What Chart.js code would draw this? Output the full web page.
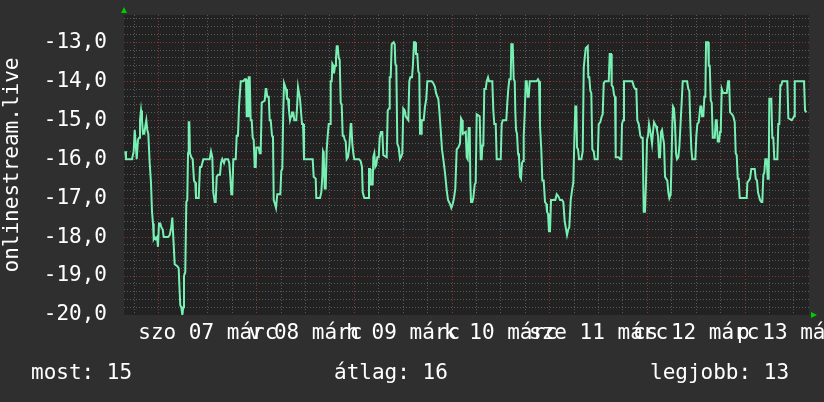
<!DOCTYPE html>
<html>
<head>
<meta charset="utf-8">
<script src="https://cdn.jsdelivr.net/npm/chart.js@4/dist/chart.umd.min.js"></script>
<style>
  html, body { margin: 0; padding: 0; background: #2f2f2f; }
  #wrap { position: relative; width: 824px; height: 402px; }
  canvas { display: block; }
  .leg { position: absolute; top: 362px; font: 21px 'DejaVu Sans Mono'; line-height: 21px; color: #ffffff; white-space: pre; }
</style>
</head>
<body>
<div id="wrap">
  <canvas id="chart" width="824" height="402"></canvas>
  <span class="leg" id="leg0" style="left:31px"></span>
  <span class="leg" id="leg1" style="left:334px"></span>
  <span class="leg" id="leg2" style="left:650px"></span>
</div>
<script>
// hours since szo 07 márc 00:00
const hours = [
  -8.28, -8.11, -6.63, -6.22, -5.97, -5.73, -5.48, -5.16, -4.91, -4.67, -4.42, -4.18, -3.93, -3.61, -3.37, -3.12,
  -2.88, -2.63, -2.29, -1.97, -1.72, -1.47, -1.30, -1.06, -0.81, -0.49, -0.25, 0, 0.32, 0.57, 0.91, 1.15,
  2.21, 2.63, 3.02, 3.27, 3.51, 3.86, 4.50, 4.84, 4.99, 5.23, 5.48, 5.73, 5.97, 6.14, 6.46, 6.71,
  6.95, 7.13, 7.30, 7.45, 7.62, 7.94, 8.28, 8.60, 8.92, 9.09, 9.76, 10.07, 10.39, 10.89, 12.46, 12.78,
  13.10, 13.34, 13.69, 13.93, 14.18, 14.50, 14.99, 15.24, 15.55, 15.97, 16.22, 16.96, 17.27, 17.52, 17.77, 18.01,
  18.26, 18.85, 19.09, 19.41, 19.66, 19.90, 20.08, 20.72, 21.06, 21.38, 21.55, 21.87, 22.04, 22.29, 22.53, 22.78,
  23.02, 23.27, 23.52, 23.76, 23.91, 24.50, 24.75, 24.99, 25.24, 25.97, 26.22, 26.37, 26.61, 26.96, 27.20, 27.45,
  27.77, 28.01, 28.19, 28.50, 28.75, 29.07, 29.81, 30.05, 30.30, 30.54, 30.72, 30.96, 31.21, 31.45, 31.70, 31.94,
  32.19, 32.44, 32.68, 33.00, 33.25, 33.74, 33.98, 34.16, 34.40, 34.65, 34.89, 35.14, 35.39, 35.63, 37.77, 38.01,
  38.51, 38.65, 39.56, 39.88, 40.13, 40.30, 40.47, 40.72, 40.96, 41.21, 41.45, 41.70, 42.02, 42.19, 42.44, 42.59,
  42.83, 43.00, 43.25, 43.49, 43.67, 43.91, 44.16, 44.40, 44.65, 44.89, 45.14, 45.39, 45.63, 45.88, 46.12, 46.44,
  46.76, 47.11, 47.26, 47.50, 47.75, 47.99, 49.15, 49.56, 49.88, 50.06, 50.45, 51.43, 51.60, 51.85, 52.02, 52.51,
  52.66, 52.91, 53.15, 53.40, 53.64, 53.99, 54.23, 54.55, 54.87, 55.12, 55.95, 56.20, 56.52, 56.69, 56.94, 57.18,
  57.67, 57.92, 58.07, 58.31, 58.56, 58.90, 59.22, 59.47, 59.79, 60.03, 60.38, 60.62, 61.26, 61.51, 61.75, 62.17,
  62.42, 62.66, 62.91, 63.15, 63.47, 63.72, 63.96, 64.14, 64.38, 64.55, 65.04, 65.36, 65.68, 65.93, 67.01, 67.40,
  67.82, 68.07, 68.39, 68.63, 68.88, 69.22, 69.54, 69.86, 70.28, 70.70, 71.02, 71.51, 71.83, 72.17, 72.49, 72.81,
  73.15, 73.55, 73.96, 74.21, 74.46, 74.63, 75.37, 75.61, 75.86, 76.10, 76.35, 76.50, 76.67, 76.99, 77.23, 77.58,
  77.82, 78.07, 78.81, 79.05, 79.30, 79.45, 79.69, 79.94, 80.28, 80.53, 80.85, 81.09, 81.90, 82.15, 82.39, 82.74,
  82.98, 83.97, 84.21, 84.46, 85.34, 85.59, 85.83, 86.08, 86.42, 86.57, 86.91, 87.16, 87.41, 87.55, 87.73, 87.97,
  88.22, 88.46, 88.71, 88.95, 89.20, 89.45, 89.62, 89.86, 90.11, 90.36, 90.60, 90.85, 91.09, 92.81, 93.13, 93.38,
  93.62, 93.94, 94.19, 94.53, 94.85, 95.17, 95.34, 95.59, 95.83, 96.08, 96.33, 97.38, 97.73, 98.12, 98.54, 99.03,
  99.35, 99.69, 99.94, 100.26, 100.58, 100.82, 101.17, 101.49, 101.81, 102.06, 102.30, 102.55, 102.72, 102.97, 103.21, 103.78,
  104.12, 104.37, 104.61, 104.86, 105.35, 105.49, 105.74, 105.99, 106.23, 106.48, 106.82, 107.07, 107.80, 108.05, 108.44, 108.79,
  109.03, 109.28, 109.60, 110.51, 110.75, 111.07, 111.24, 111.56, 111.81, 112.05, 112.22, 112.54, 112.96, 113.28, 113.60, 113.77,
  114.02, 114.26, 116.30, 116.72, 117.04, 117.29, 117.53, 117.88, 118.02, 118.27, 118.52, 118.86, 119.10, 119.42, 119.67, 119.92,
  120.16, 120.41, 120.65, 120.90, 121.15, 121.39, 121.64, 121.88, 122.13, 122.37, 122.62, 122.87, 123.11, 123.36, 123.60, 123.85,
  124.10, 124.34, 124.59, 124.91, 125.15, 125.40, 125.74, 125.89, 126.14, 126.31, 126.55, 126.80, 127.05, 127.29, 127.61, 127.86,
  128.20, 128.45, 128.69, 129.75, 130.07, 130.32, 130.56, 130.81, 131.05, 131.79, 132.04, 132.28, 132.63, 133.02, 133.27, 133.44,
  133.76, 134.01, 134.25, 134.42, 134.91, 135.09, 135.33, 135.58, 135.82, 136.07, 136.56, 136.81, 137.05, 137.30, 137.62, 137.87,
  138.04, 138.28, 138.60, 139.51, 139.83, 140.08, 140.33, 140.82, 141.12, 141.47, 141.71, 141.96, 142.21, 142.45, 142.70, 144.42,
  144.57, 144.91, 145.23, 145.55, 146.38, 146.63, 146.95, 147.19, 147.44, 147.69, 148.01, 148.25, 148.50, 148.74, 148.99, 149.33,
  149.58, 149.82, 149.97, 150.46, 150.71, 150.95, 151.20, 151.94, 152.18, 152.43, 152.68, 152.92, 153.17, 154.40, 154.64, 155.48,
  155.80, 156.05, 156.22, 158.50, 158.75, 159.07
];
const values = [
  -15.8, -16.0, -16.0, -15.8, -15.25, -15.6, -16.0, -15.5, -15.45, -15.0, -14.75, -15.0, -15.35, -15.35, -15.15, -15.0,
  -15.25, -15.35, -16.1, -16.6, -17.35, -17.65, -18.05, -18.0, -18.05, -18.0, -18.25, -17.65, -17.65, -17.75, -17.8, -18.0,
  -18.0, -17.95, -17.75, -17.5, -18.0, -18.7, -18.75, -18.8, -19.2, -19.75, -19.8, -20.0, -19.8, -19.0, -18.9, -17.1,
  -17.05, -15.85, -15.05, -15.05, -15.85, -15.95, -16.0, -16.55, -16.6, -17.0, -17.0, -16.2, -16.2, -16.0, -16.0, -15.8,
  -15.95, -16.85, -17.1, -17.1, -16.45, -16.4, -16.4, -16.1, -16.0, -16.1, -16.0, -16.0, -16.1, -16.45, -16.9, -16.9,
  -16.0, -16.0, -15.4, -15.4, -14.65, -14.65, -14.0, -14.0, -13.95, -13.95, -14.9, -14.9, -13.9, -13.9, -15.0, -15.0,
  -15.45, -15.5, -16.2, -16.2, -15.7, -15.7, -15.85, -15.85, -14.55, -14.5, -14.2, -14.2, -14.4, -14.4, -15.0, -15.0,
  -15.4, -15.45, -17.05, -17.15, -17.25, -16.9, -16.9, -16.3, -16.25, -14.75, -14.05, -14.05, -14.2, -14.45, -14.45, -14.75,
  -15.0, -14.9, -14.8, -14.8, -15.0, -15.0, -14.55, -14.15, -14.15, -14.45, -14.45, -15.1, -15.1, -16.0, -16.0, -16.45,
  -16.5, -17.0, -17.0, -16.85, -16.45, -15.8, -15.85, -16.75, -16.75, -15.75, -15.4, -15.1, -15.1, -14.0, -14.0, -13.55,
  -13.6, -13.8, -13.6, -13.4, -13.1, -13.1, -13.4, -13.45, -14.55, -14.6, -15.4, -15.4, -15.5, -15.55, -16.0, -15.95,
  -15.7, -15.1, -15.1, -15.6, -15.85, -16.0, -16.0, -16.05, -16.2, -16.85, -17.0, -17.0, -16.25, -16.25, -16.65, -16.65,
  -15.95, -15.85, -16.2, -16.15, -15.95, -15.95, -15.45, -15.3, -15.3, -15.9, -15.95, -14.75, -14.7, -13.9, -13.9, -13.05,
  -13.0, -13.05, -13.55, -13.6, -15.6, -15.7, -16.0, -15.95, -15.85, -14.7, -14.75, -14.9, -15.0, -14.0, -13.9, -13.9,
  -13.55, -13.0, -13.0, -13.3, -13.3, -13.75, -13.8, -15.35, -15.35, -15.0, -15.0, -14.65, -14.45, -14.0, -14.0, -14.05,
  -14.15, -14.3, -14.4, -14.45, -14.75, -15.25, -15.75, -16.0, -16.35, -16.8, -17.05, -17.15, -17.25, -17.15, -17.0, -16.75,
  -15.75, -15.7, -15.6, -14.95, -15.0, -15.35, -15.3, -15.95, -16.0, -15.2, -15.2, -16.6, -17.1, -17.1, -17.0, -16.65,
  -16.6, -14.85, -14.9, -16.0, -16.0, -15.65, -15.65, -14.2, -14.2, -14.0, -13.9, -14.0, -14.0, -14.75, -15.1, -15.1,
  -16.0, -16.0, -15.1, -15.0, -15.0, -14.55, -14.2, -13.95, -13.95, -13.05, -13.05, -13.95, -14.0, -14.75, -15.25, -15.35,
  -15.85, -15.95, -16.45, -16.5, -16.1, -16.05, -15.4, -14.85, -14.0, -14.0, -14.4, -14.4, -14.0, -14.0, -13.95, -14.0,
  -15.15, -15.75, -16.55, -16.55, -17.1, -17.15, -17.35, -17.4, -17.85, -17.85, -17.05, -17.05, -16.9, -16.95, -17.05, -17.05,
  -17.1, -17.6, -17.75, -17.95, -17.8, -17.75, -17.05, -16.8, -16.6, -15.5, -14.65, -14.65, -15.7, -15.75, -16.0, -16.0,
  -15.8, -13.65, -13.4, -13.15, -13.1, -13.9, -13.9, -14.25, -14.3, -15.75, -15.8, -16.0, -16.0, -15.1, -15.05, -14.9,
  -14.85, -14.05, -14.0, -14.0, -13.3, -13.3, -14.1, -14.15, -14.35, -14.4, -15.95, -15.95, -15.95, -16.0, -16.0, -15.1,
  -15.0, -14.0, -14.0, -14.15, -14.2, -14.2, -15.0, -15.1, -15.2, -15.4, -15.45, -15.45, -17.35, -17.35, -16.6, -15.5,
  -15.4, -15.1, -15.1, -15.4, -15.6, -15.3, -15.05, -15.1, -15.15, -15.25, -15.4, -15.95, -15.95, -15.3, -15.25, -15.45,
  -15.6, -16.45, -16.5, -16.55, -16.85, -17.0, -16.9, -16.25, -15.1, -14.65, -14.7, -15.1, -15.85, -16.0, -15.95, -15.7,
  -15.0, -14.5, -14.0, -14.0, -14.2, -14.25, -15.1, -15.75, -16.0, -16.0, -15.4, -15.1, -15.05, -14.65, -14.65, -14.9,
  -14.9, -14.4, -14.4, -13.0, -13.0, -13.6, -13.6, -14.5, -14.55, -15.45, -15.45, -15.0, -15.0, -15.55, -15.55, -15.3,
  -15.25, -14.2, -14.3, -14.3, -14.0, -14.0, -14.8, -14.85, -14.9, -15.05, -15.85, -15.9, -16.5, -16.5, -17.0, -17.0,
  -16.6, -16.55, -16.5, -16.25, -16.25, -16.5, -16.55, -16.85, -16.95, -17.05, -17.1, -17.1, -16.4, -16.35, -16.0, -16.0,
  -16.5, -16.5, -14.45, -14.45, -15.45, -15.45, -16.0, -16.0, -15.1, -15.1, -14.1, -14.1, -14.0, -14.0, -14.95, -15.0,
  -14.95, -14.9, -14.0, -14.0, -14.75, -14.8
];

// day labels sit at noon of each day (hours 12, 36, 60, ...)
const dayNoons = [12, 36, 60, 84, 108, 132, 156];
const dayLabels = ['szo 07 márc', 'v 08 márc', 'h 09 márc', 'k 10 márc', 'sze 11 márc', 'cs 12 márc', 'p 13 márc'];

const legendLabels = ['most', 'átlag', 'legjobb'];
const legendValues = [15, 16, 13];

const yTitle = 'onlinestream.live';

legendLabels.forEach((l, i) => {
  document.getElementById('leg' + i).textContent = l + ': ' + legendValues[i];
});

const X_MIN = -8.6, X_MAX = 159.72;
const Y_MIN = -20, Y_MAX = -12.3;

const FONT = { family: 'DejaVu Sans Mono', size: 21 };
const MAJOR = 'rgba(150,55,55,0.9)';
const MINOR = 'rgba(95,95,95,0.9)';

// minor grid every 6 hours, major at midnight; bounds kept as unlabeled ticks
function xTicks(scale) {
  const t = [{ value: X_MIN }];
  for (let h = Math.ceil(X_MIN / 6) * 6; h < X_MAX; h += 6) t.push({ value: h });
  t.push({ value: X_MAX });
  scale.ticks = t;
}
// minor grid every 0.2, major at whole numbers
function yTicks(scale) {
  const t = [];
  for (let k = Y_MIN * 5; k <= Y_MAX * 5; k++) t.push({ value: k / 5 });
  t.push({ value: Y_MAX });
  scale.ticks = t;
}
const isWhole = v => Math.abs(v - Math.round(v)) < 1e-6;

// no extra room for half-labels sticking out of the plot
function noLabelPadding(s) {
  s.paddingTop = 0;
  s.paddingBottom = 0;
  s.paddingLeft = 0;
  s.paddingRight = 0;
}

const plotBg = {
  id: 'plotBg',
  beforeDraw(chart) {
    const { ctx, chartArea: a } = chart;
    ctx.save();
    ctx.fillStyle = '#222222';
    ctx.fillRect(a.left, a.top, a.right - a.left, a.bottom - a.top);
    ctx.restore();
  },
  afterDraw(chart) {
    // little green axis arrows, rrdtool style
    const { ctx, chartArea: a } = chart;
    ctx.save();
    ctx.fillStyle = '#00cc00';
    ctx.beginPath();
    ctx.moveTo(a.left - 3, a.top - 2);
    ctx.lineTo(a.left + 3, a.top - 2);
    ctx.lineTo(a.left, a.top - 8);
    ctx.fill();
    ctx.beginPath();
    ctx.moveTo(a.right + 2, a.bottom - 3);
    ctx.lineTo(a.right + 2, a.bottom + 3);
    ctx.lineTo(a.right + 8, a.bottom);
    ctx.fill();
    ctx.restore();
  }
};

const ctx = document.getElementById('chart').getContext('2d');
new Chart(ctx, {
  type: 'line',
  data: {
    datasets: [{
      data: hours.map((h, i) => ({ x: h, y: values[i] })),
      borderColor: '#78f0b4',
      borderWidth: 2,
      pointRadius: 0,
      tension: 0,
      fill: false
    }]
  },
  options: {
    responsive: false,
    animation: false,
    devicePixelRatio: 1,
    layout: { padding: { left: 0, right: 15, top: 15, bottom: 0 } },
    plugins: { legend: { display: false }, tooltip: { enabled: false } },
    scales: {
      x: {
        type: 'linear',
        min: X_MIN,
        max: X_MAX,
        afterBuildTicks: xTicks,
        afterFit: s => { s.height = 87; noLabelPadding(s); },
        border: { display: false, dash: [1, 2] },
        grid: {
          drawTicks: false,
          borderDash: [1, 2],
          color: c => {
            if (!c.tick) return 'transparent';
            const v = c.tick.value;
            if (v === X_MIN || v === X_MAX) return 'transparent';
            return Math.abs(v % 24) < 1e-6 ? MAJOR : MINOR;
          }
        },
        ticks: {
          autoSkip: false,
          maxRotation: 0,
          minRotation: 0,
          padding: 6,
          color: '#ffffff',
          font: FONT,
          callback: v => {
            const i = dayNoons.indexOf(v);
            return i >= 0 ? dayLabels[i] : '';
          }
        }
      },
      y: {
        min: Y_MIN,
        max: Y_MAX,
        afterBuildTicks: yTicks,
        afterFit: s => { s.width = 124; noLabelPadding(s); },
        border: { display: false, dash: [1, 2] },
        title: { display: true, text: yTitle, color: '#ffffff', font: FONT, padding: 0 },
        grid: {
          drawTicks: false,
          borderDash: [1, 2],
          color: c => {
            if (!c.tick) return 'transparent';
            const v = c.tick.value;
            if (v === Y_MAX || v === Y_MIN) return 'transparent';
            return isWhole(v) ? MAJOR : MINOR;
          }
        },
        ticks: {
          autoSkip: false,
          padding: 17,
          color: '#ffffff',
          font: FONT,
          callback: v => (v !== Y_MAX && isWhole(v)) ? Math.round(v).toFixed(1).replace('.', ',') : ''
        }
      }
    }
  },
  plugins: [plotBg]
});
</script>
</body>
</html>
